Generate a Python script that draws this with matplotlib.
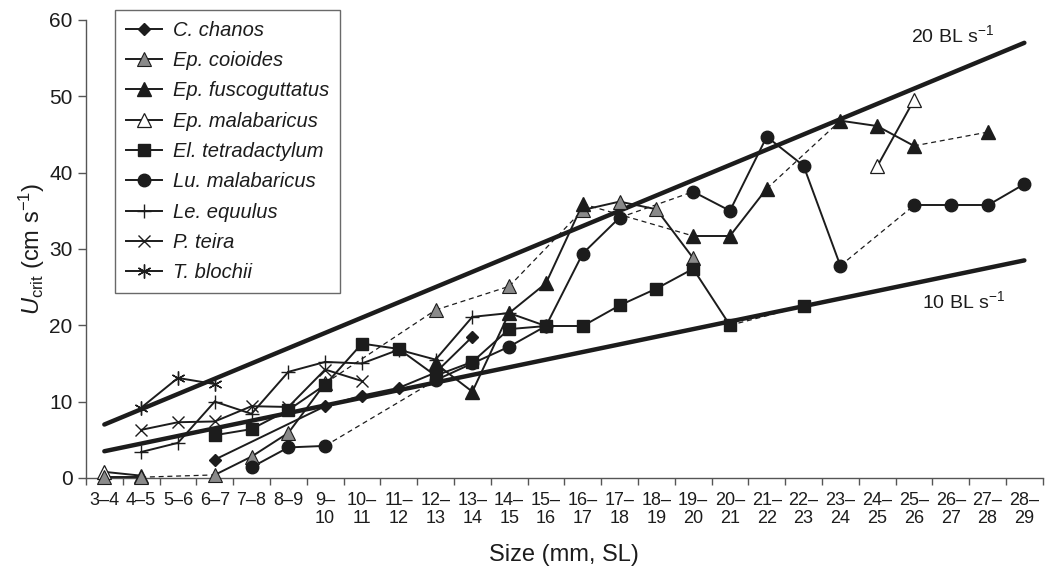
import numpy as np
import matplotlib.pyplot as plt
from matplotlib.lines import Line2D

plt.rcParams['font.family'] = ['Liberation Sans', 'DejaVu Sans']
plt.rcParams['mathtext.fontset'] = 'custom'
plt.rcParams['mathtext.rm'] = 'Liberation Sans'
plt.rcParams['mathtext.it'] = 'Liberation Sans:italic'

# size classes (mm SL), lower bound of each class
classes = list(range(3, 29))
class_labels = ['3–4', '4–5', '5–6', '6–7', '7–8', '8–9', '9–\n10', '10–\n11',
                '11–\n12', '12–\n13', '13–\n14', '14–\n15', '15–\n16', '16–\n17',
                '17–\n18', '18–\n19', '19–\n20', '20–\n21', '21–\n22', '22–\n23',
                '23–\n24', '24–\n25', '25–\n26', '26–\n27', '27–\n28', '28–\n29']

# links between consecutive points: s = solid, d = dashed, n = none
chanos_x = [6, 9, 10, 11, 12, 13]
chanos_y = [2.4, 9.4, 10.8, 11.8, 13.8, 18.5]
chanos_link = 'sssss'

coioides_x = [3, 4, 6, 7, 8, 9, 12, 14, 16, 17, 18, 19]
coioides_y = [0.1, 0.1, 0.4, 2.8, 5.9, 12.4, 22.0, 25.1, 35.1, 36.2, 35.2, 28.8]
coioides_link = 'sdsssdddsss'

fusco_x = [12, 13, 14, 15, 16, 19, 20, 21, 23, 24, 25, 27]
fusco_y = [15.0, 11.3, 21.6, 25.5, 35.9, 31.7, 31.7, 37.9, 46.8, 46.1, 43.5, 45.3]
fusco_link = 'ssssdssdssd'

epmal_x = [3, 4, 24, 25]
epmal_y = [0.8, 0.3, 40.8, 49.5]
epmal_link = 'sns'

tetra_x = [6, 7, 8, 9, 10, 11, 12, 13, 14, 15, 16, 17, 18, 19, 20, 22]
tetra_y = [5.6, 6.4, 8.9, 12.2, 17.6, 16.9, 13.4, 15.2, 19.5, 19.9, 19.9, 22.6,
           24.8, 27.4, 20.0, 22.5]
tetra_link = 'ssssssssssssssd'

lumal_x = [7, 8, 9, 12, 13, 14, 15, 16, 17, 19, 20, 21, 22, 23, 25, 26, 27, 28]
lumal_y = [1.4, 4.0, 4.2, 12.8, 15.0, 17.2, 19.9, 29.4, 34.1, 37.5, 35.0, 44.7,
           40.9, 27.8, 35.7, 35.7, 35.7, 38.5]
lumal_link = 'ssdsssssdssssdsss'

equulus_x = [4, 5, 6, 7, 8, 9, 10, 11, 12, 13, 14, 15]
equulus_y = [3.4, 4.6, 10.0, 8.4, 13.9, 15.2, 15.0, 16.8, 15.5, 21.1, 21.6, 19.9]
equulus_link = 'sssssssssss'

teira_x = [4, 5, 6, 7, 8, 9, 10]
teira_y = [6.3, 7.3, 7.4, 9.4, 9.3, 14.2, 12.7]
teira_link = 'ssssss'

blochii_x = [4, 5, 6]
blochii_y = [9.2, 13.1, 12.3]
blochii_link = 'ss'

# body length reference lines (cm s-1) at first and last class
bl_x = [3, 28]
bl20_y = [7.0, 57.0]
bl10_y = [3.5, 28.5]

ink = '#1c1c1c'

fig = plt.figure(figsize=(10.48, 5.69), dpi=100)
ax = fig.add_axes([0.082, 0.160, 0.913, 0.805])


def pos(xs):
    return np.array(xs) - classes[0]


def draw(xs, ys, links, mk):
    px = pos(xs)
    for k, c in enumerate(links):
        if c == 'n':
            continue
        if c == 's':
            ax.plot(px[k:k + 2], ys[k:k + 2], color=ink, lw=1.4, zorder=3,
                    clip_on=False)
        else:
            ax.plot(px[k:k + 2], ys[k:k + 2], color=ink, lw=0.9,
                    dashes=(4, 3), zorder=3, clip_on=False)
    ax.plot(px, ys, ls='none', zorder=4, clip_on=False, **mk)


ax.plot(pos(bl_x), bl20_y, color=ink, lw=3.2, solid_capstyle='round', zorder=2)
ax.plot(pos(bl_x), bl10_y, color=ink, lw=3.2, solid_capstyle='round', zorder=2)

styles = {
    'C. chanos': dict(marker='D', ms=6.5, mfc=ink, mec=ink),
    'Ep. coioides': dict(marker='^', ms=9.5, mfc='#8a8a8a', mec=ink, mew=0.8),
    'Ep. fuscoguttatus': dict(marker='^', ms=9.5, mfc=ink, mec=ink),
    'Ep. malabaricus': dict(marker='^', ms=9.5, mfc='white', mec=ink, mew=0.9),
    'El. tetradactylum': dict(marker='s', ms=9, mfc=ink, mec=ink),
    'Lu. malabaricus': dict(marker='o', ms=9, mfc=ink, mec=ink),
    'Le. equulus': dict(marker='+', ms=10, mec=ink, mew=1.0),
    'P. teira': dict(marker='x', ms=8, mec=ink, mew=1.0),
    'T. blochii': dict(marker=(6, 2, 0), ms=10, mec=ink, mew=1.0),
}

series = [
    ('C. chanos', chanos_x, chanos_y, chanos_link),
    ('Ep. coioides', coioides_x, coioides_y, coioides_link),
    ('Ep. fuscoguttatus', fusco_x, fusco_y, fusco_link),
    ('Ep. malabaricus', epmal_x, epmal_y, epmal_link),
    ('El. tetradactylum', tetra_x, tetra_y, tetra_link),
    ('Lu. malabaricus', lumal_x, lumal_y, lumal_link),
    ('Le. equulus', equulus_x, equulus_y, equulus_link),
    ('P. teira', teira_x, teira_y, teira_link),
    ('T. blochii', blochii_x, blochii_y, blochii_link),
]

# draw malabaricus first so the grey coioides triangles sit on top near 0
order = [3, 0, 1, 2, 4, 5, 6, 7, 8]
for i in order:
    name, xs, ys, links = series[i]
    draw(xs, ys, links, styles[name])
handles = [Line2D([], [], color=ink, lw=1.4, **styles[s[0]]) for s in series]

ax.text(23.06, 58.0, r'20 BL s$^{-1}$', fontsize=14, ha='center', va='center', color=ink)
ax.text(23.36, 23.1, r'10 BL s$^{-1}$', fontsize=14, ha='center', va='center', color=ink)

ax.set_xlim(-0.5, len(classes) - 0.5)
ax.set_ylim(0, 60)
ax.set_xticks(np.arange(len(classes) + 1) - 0.5)
ax.set_xticklabels([])
ax.set_xticks(np.arange(len(classes)), minor=True)
ax.set_xticklabels(class_labels, minor=True, fontsize=13, linespacing=1.1)
ax.tick_params(axis='x', which='minor', length=0, pad=10, colors=ink)
ax.tick_params(axis='x', which='major', length=5, width=1, color='#555555')
ax.set_yticks(range(0, 61, 10))
ax.tick_params(axis='y', length=6, width=1, labelsize=15, color='#555555', labelcolor=ink)
for s in ['top', 'right']:
    ax.spines[s].set_visible(False)
for s in ['left', 'bottom']:
    ax.spines[s].set_color('#555555')
    ax.spines[s].set_linewidth(1)

ax.set_xlabel('Size (mm, SL)', fontsize=17, color=ink, labelpad=12)
ax.set_ylabel(r'$U_{\mathrm{crit}}$ (cm s$^{-1}$)', fontsize=17, color=ink, labelpad=2)

leg = ax.legend(handles, [s[0] for s in series], loc='upper left',
                bbox_to_anchor=(0.030, 1.022), borderaxespad=0, frameon=True,
                fancybox=False, edgecolor='#444444', handlelength=1.8,
                handletextpad=0.55, labelspacing=0.56, borderpad=0.55,
                prop={'style': 'italic', 'size': 14.5})
leg.get_frame().set_linewidth(1.0)
for t in leg.get_texts():
    t.set_color(ink)

fig.savefig('out.png', dpi=100)
